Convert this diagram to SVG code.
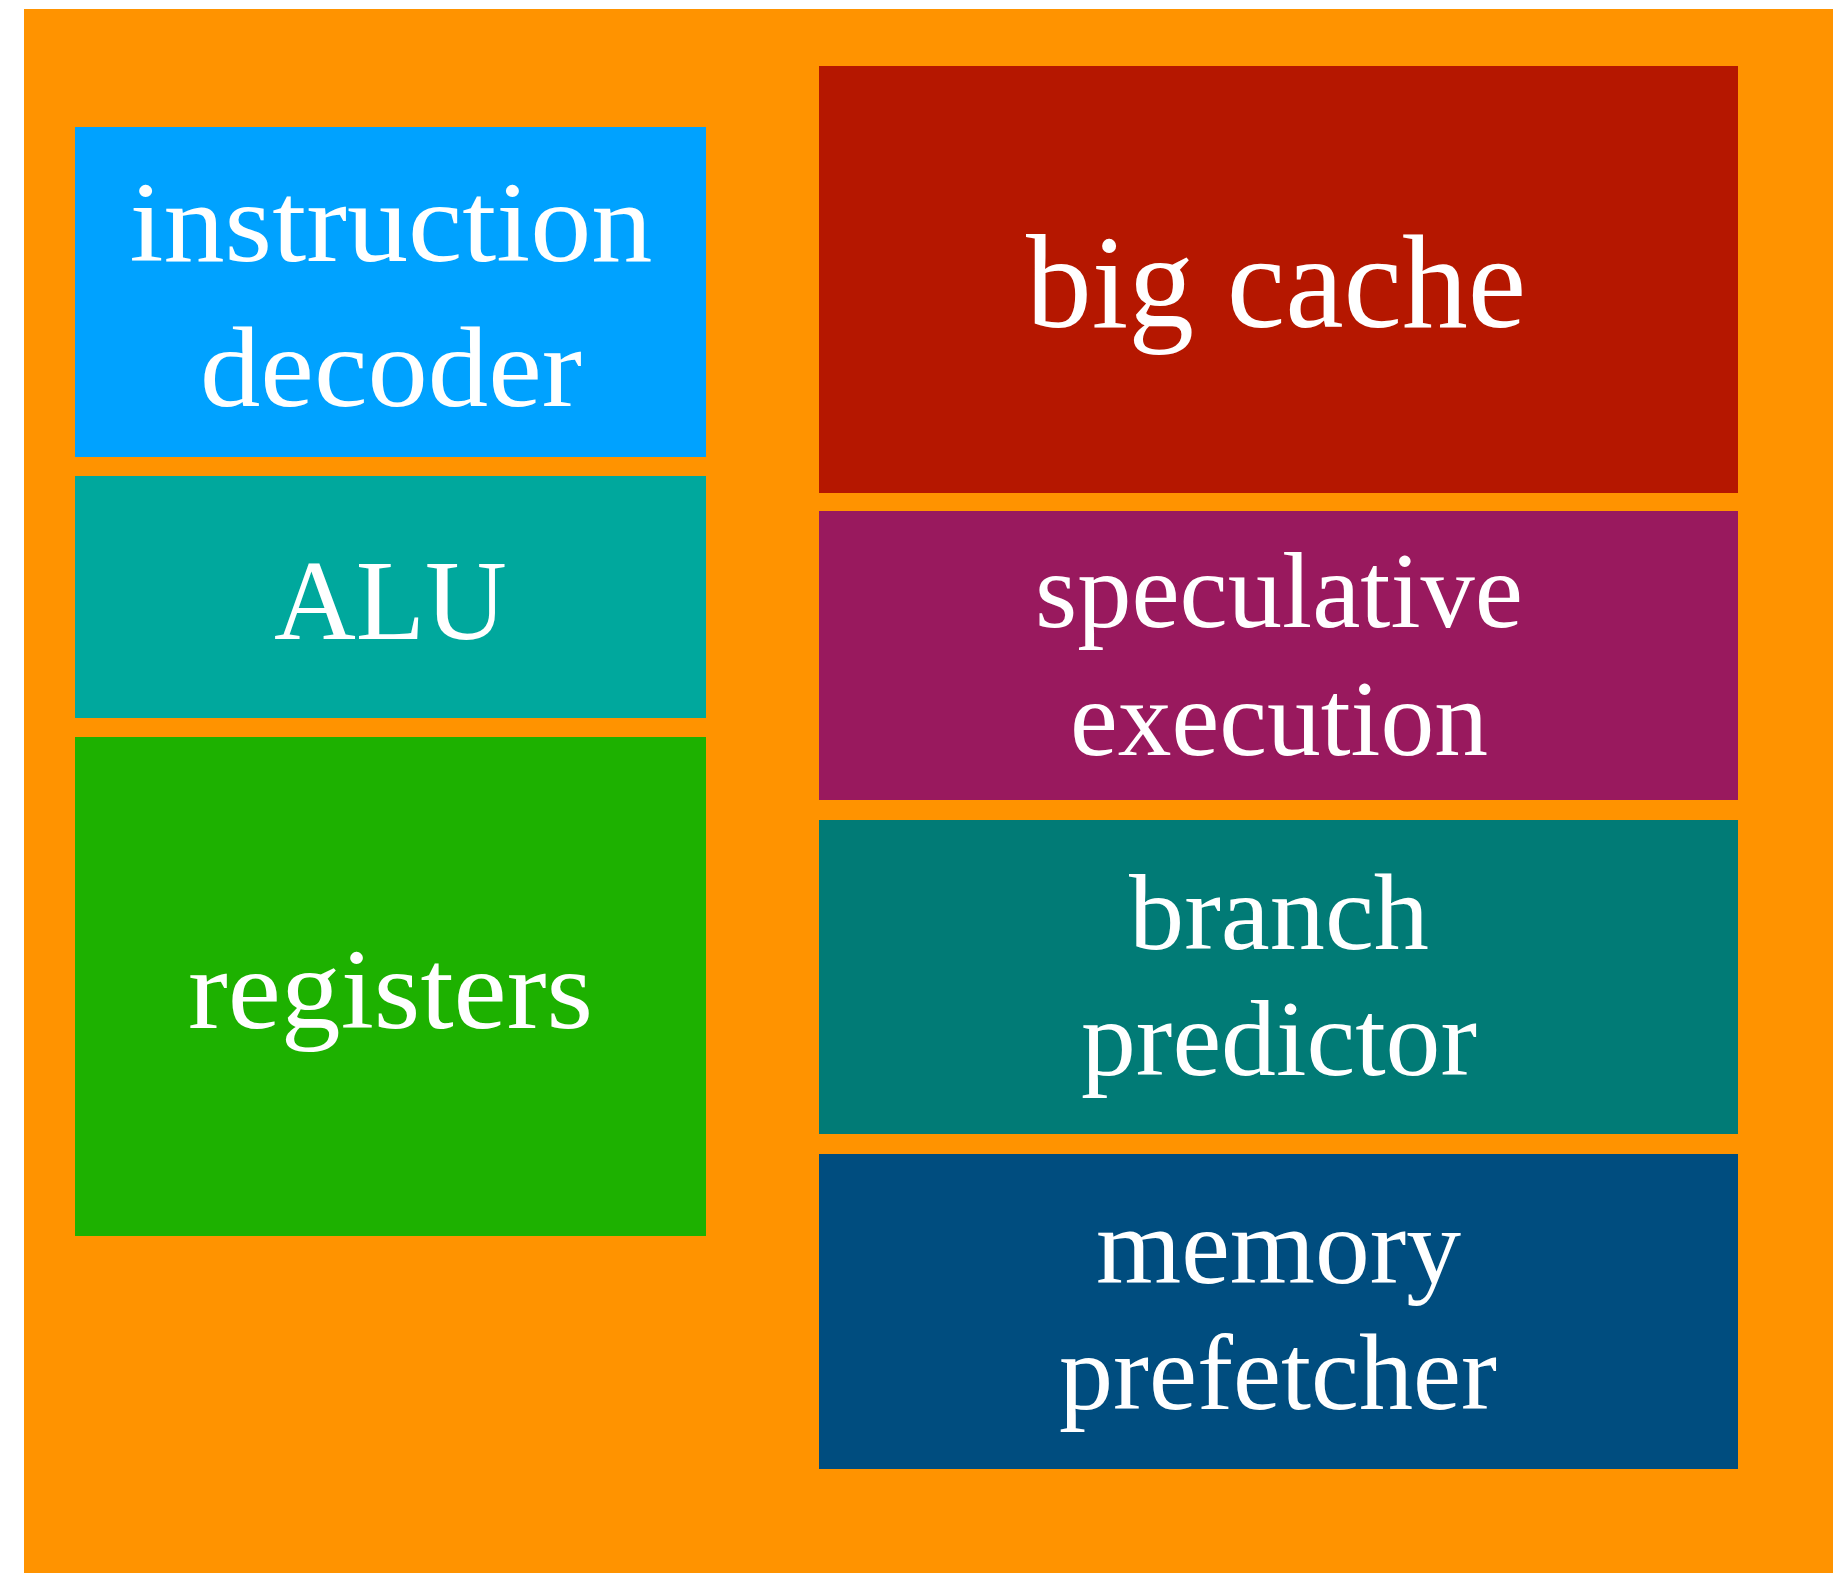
<svg xmlns="http://www.w3.org/2000/svg" width="1833" height="1573" viewBox="0 0 1833 1573">
  <style>
    .lbl { font-family: "Liberation Serif", "Times New Roman", serif; fill: #ffffff; text-anchor: middle; }
    .left { font-size: 114px; }
    .right { font-size: 107px; }
    .big { font-size: 134px; }
  </style>
  <!-- page and chip background -->
  <rect x="0" y="0" width="1833" height="1573" fill="#ffffff"/>
  <rect id="chip" x="24" y="9" width="1809" height="1564" fill="#ff9300"/>

  <!-- left column -->
  <g id="instruction-decoder">
    <rect x="75" y="127" width="631" height="330" fill="#00a2ff"/>
    <text class="lbl left" x="391" y="261" textLength="523" lengthAdjust="spacingAndGlyphs">instruction</text>
    <text class="lbl left" x="391" y="406" textLength="382" lengthAdjust="spacingAndGlyphs">decoder</text>
  </g>
  <g id="alu">
    <rect x="75" y="476" width="631" height="242" fill="#00a89d"/>
    <text class="lbl left" x="390.5" y="639" textLength="233" lengthAdjust="spacingAndGlyphs">ALU</text>
  </g>
  <g id="registers">
    <rect x="75" y="737" width="631" height="499" fill="#1db100"/>
    <text class="lbl left" x="390.5" y="1028" textLength="405" lengthAdjust="spacingAndGlyphs">registers</text>
  </g>

  <!-- right column -->
  <g id="big-cache">
    <rect x="819" y="66" width="919" height="427" fill="#b51700"/>
    <text class="lbl big" x="1276" y="327" textLength="500" lengthAdjust="spacingAndGlyphs">big cache</text>
  </g>
  <g id="speculative-execution">
    <rect x="819" y="511" width="919" height="289" fill="#99195e"/>
    <text class="lbl right" x="1279" y="627" textLength="488" lengthAdjust="spacingAndGlyphs">speculative</text>
    <text class="lbl right" x="1279" y="755" textLength="418" lengthAdjust="spacingAndGlyphs">execution</text>
  </g>
  <g id="branch-predictor">
    <rect x="819" y="820" width="919" height="314" fill="#017b76"/>
    <text class="lbl right" x="1279" y="949" textLength="300" lengthAdjust="spacingAndGlyphs">branch</text>
    <text class="lbl right" x="1279" y="1075" textLength="396" lengthAdjust="spacingAndGlyphs">predictor</text>
  </g>
  <g id="memory-prefetcher">
    <rect x="819" y="1154" width="919" height="315" fill="#004d7f"/>
    <text class="lbl right" x="1278.5" y="1283" textLength="365" lengthAdjust="spacingAndGlyphs">memory</text>
    <text class="lbl right" x="1278" y="1409" textLength="438" lengthAdjust="spacingAndGlyphs">prefetcher</text>
  </g>

  <g id="connectors"/>
</svg>
